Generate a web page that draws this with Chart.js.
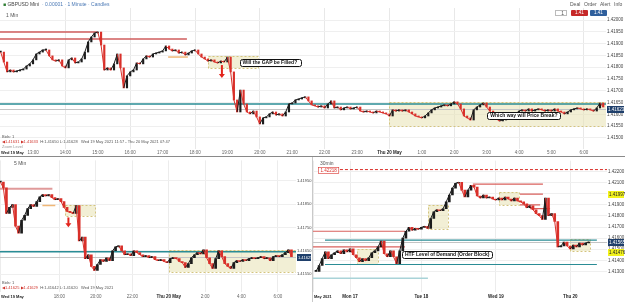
<!DOCTYPE html>
<html lang="en">
<head>
<meta charset="UTF-8" />
<title>GBPUSD - 1 Min / 5 Min / 30 Min</title>
<script src="https://cdn.jsdelivr.net/npm/chart.js"></script>
<style>
    * { box-sizing: border-box; margin: 0; padding: 0; }
    body {
        width: 625px;
        height: 302px;
        position: relative;
        overflow: hidden;
        background: #fff;
        font-family: "Liberation Sans", Arial, sans-serif;
        color: #333;
    }
    canvas { position: absolute; }
    .t { position: absolute; font-size: 5px; line-height: 6px; white-space: nowrap; color: #555; }
    .s { font-size: 4px; line-height: 5px; }
    .red { color: #d0342c; }
    .btn { position: absolute; height: 6px; font-size: 4.5px; line-height: 6px; color: #fff; text-align: center; border-radius: 1px; }
    .hsep { position: absolute; left: 0; top: 156px; width: 625px; height: 1px; background: #8a8a8a; }
    .vsep { position: absolute; left: 312px; top: 157px; width: 1px; height: 145px; background: #c9c9c9; }
</style>
</head>
<body>

<canvas id="top" width="625" height="157" style="left:0;top:0"></canvas>
<canvas id="bl" width="312" height="145" style="left:0;top:157px"></canvas>
<canvas id="br" width="312" height="145" style="left:313px;top:157px"></canvas>
<div class="hsep"></div>
<div class="vsep"></div>

<!-- header / overlay texts -->
<div class="t" style="left:3px;top:1px;color:#444"><span style="color:#2e7d32">&#9632;</span> GBPUSD Mini &nbsp;<span style="color:#4a78b5">&#183; 0.00001 &#183; 1 Minute &#183; Candles</span></div>
<div class="t" style="left:570px;top:1px">Deal</div>
<div class="t" style="left:584px;top:1px">Order</div>
<div class="t" style="left:600px;top:1px">Alert</div>
<div class="t" style="left:614px;top:1px">Info</div>
<div class="t" style="left:555px;top:10px;width:12px;height:6px;border:1px solid #bbb;background:#fff;text-align:right;padding-right:2px;line-height:4px">1</div>
<div class="btn" style="left:571px;top:10px;width:17px;background:#c62828">1.41 407</div>
<div class="btn" style="left:590px;top:10px;width:17px;background:#2f5f9c">1.41 388</div>
<div class="t" style="left:6px;top:12px">1 Min</div>
<div class="t s" style="left:2px;top:134px">Bids: 1</div>
<div class="t s" style="left:2px;top:139px"><span class="red">&#9664;1.41631 &#9654;1.41633</span> &nbsp;H:1.41650 L:1.41628 &nbsp; Wed 19 May 2021 11:57 - Thu 20 May 2021 07:47</div>
<div class="t s" style="left:2px;top:144px;color:#999">Zoom Level</div>
<div class="t" style="left:14px;top:160px">5 Min</div>
<div class="t s" style="left:2px;top:280px">Bids: 1</div>
<div class="t s" style="left:2px;top:285px"><span class="red">&#9664;1.41625 &#9654;1.41629</span> &nbsp;H:1.41642 L:1.41620 &nbsp; Wed 19 May 2021</div>
<div class="t" style="left:320px;top:160px">30min</div>

<script>
// ---- 1 minute pane (sampled every 6 minutes), hours since Wed 19 May 00:00
const topStart = 12.0;
const topStep = 0.1;
const topClose = [
    1.41864, 1.41822, 1.41780, 1.41788, 1.41780, 1.41784, 1.41788, 1.41792, 1.41805, 1.41814,
    1.41831, 1.41856, 1.41864, 1.41873, 1.41873, 1.41848, 1.41831, 1.41826, 1.41831, 1.41805,
    1.41797, 1.41831, 1.41839, 1.41818, 1.41822, 1.41835, 1.41864, 1.41907, 1.41928, 1.41945,
    1.41949, 1.41894, 1.41788, 1.41797, 1.41788, 1.41814, 1.41856, 1.41797, 1.41712, 1.41763,
    1.41780, 1.41788, 1.41818, 1.41814, 1.41835, 1.41848, 1.41843, 1.41856, 1.41860, 1.41864,
    1.41869, 1.41890, 1.41877, 1.41869, 1.41873, 1.41860, 1.41864, 1.41852, 1.41860, 1.41869,
    1.41873, 1.41856, 1.41843, 1.41835, 1.41826, 1.41831, 1.41822, 1.41818, 1.41826, 1.41822,
    1.41843, 1.41780, 1.41661, 1.41610, 1.41703, 1.41644, 1.41610, 1.41602, 1.41614, 1.41589,
    1.41559, 1.41585, 1.41589, 1.41602, 1.41610, 1.41597, 1.41602, 1.41593, 1.41610, 1.41644,
    1.41648, 1.41661, 1.41665, 1.41670, 1.41674, 1.41657, 1.41640, 1.41636, 1.41631, 1.41636,
    1.41627, 1.41644, 1.41657, 1.41627, 1.41631, 1.41619, 1.41627, 1.41631, 1.41623, 1.41627,
    1.41631, 1.41614, 1.41610, 1.41614, 1.41610, 1.41606, 1.41614, 1.41610, 1.41606, 1.41602,
    1.41593, 1.41619, 1.41614, 1.41619, 1.41614, 1.41619, 1.41610, 1.41602, 1.41593, 1.41589,
    1.41585, 1.41593, 1.41606, 1.41619, 1.41627, 1.41631, 1.41636, 1.41640, 1.41636, 1.41644,
    1.41653, 1.41644, 1.41623, 1.41593, 1.41585, 1.41576, 1.41619, 1.41631, 1.41640, 1.41648,
    1.41631, 1.41614, 1.41593, 1.41580, 1.41572, 1.41576, 1.41589, 1.41593, 1.41606, 1.41602,
    1.41614, 1.41619, 1.41614, 1.41623, 1.41614, 1.41619, 1.41623, 1.41619, 1.41614, 1.41619,
    1.41614, 1.41623, 1.41614, 1.41610, 1.41602, 1.41610, 1.41619, 1.41623, 1.41627, 1.41623,
    1.41619, 1.41623, 1.41619, 1.41614, 1.41627, 1.41648, 1.41631
];
const topTimeTicks = [11.98, 13, 14, 15, 16, 17, 18, 19, 20, 21, 22, 23, 24, 25, 26, 27, 28, 29, 30];
const topTimeLabels = ['Wed 19 May', '13:00', '14:00', '15:00', '16:00', '17:00', '18:00', '19:00', '20:00',
    '21:00', '22:00', '23:00', 'Thu 20 May', '1:00', '2:00', '3:00', '4:00', '5:00', '6:00'];
const topPriceTicks = [1.4150, 1.4155, 1.4160, 1.4165, 1.4170, 1.4175, 1.4180, 1.4185, 1.4190, 1.4195, 1.4200];
const topRedLevels = [[11.98, 14.98, 1.41949], [11.98, 17.75, 1.41920]];
const topOrangeLevels = [[17.17, 17.78, 1.41843]];
const topTealLevels = [[11.98, 31, 1.41644]];
const topBoxes = [[18.40, 19.94, 1.41848, 1.41797], [23.99, 30.7, 1.41653, 1.41551]];
const topArrows = [[18.83, 1.41809, 1.41754]];
const topNotes = [[20.31, 1.41820, 'Will the GAP be Filled?'], [28.15, 1.41595, 'Which way will Price Break?']];
const topLast = 1.41623;

// ---- 5 minute pane (sampled every 10 minutes), hours since Wed 19 May 00:00
const blStart = 14.75;
const blStep = 1 / 6;
const blClose = [
    1.41945, 1.41920, 1.41810, 1.41836, 1.41848, 1.41756, 1.41726, 1.41781, 1.41802, 1.41831,
    1.41848, 1.41840, 1.41861, 1.41882, 1.41891, 1.41886, 1.41891, 1.41878, 1.41869, 1.41874,
    1.41861, 1.41836, 1.41819, 1.41815, 1.41810, 1.41844, 1.41692, 1.41709, 1.41616, 1.41633,
    1.41583, 1.41566, 1.41591, 1.41612, 1.41604, 1.41620, 1.41608, 1.41650, 1.41667, 1.41671,
    1.41650, 1.41633, 1.41637, 1.41629, 1.41650, 1.41642, 1.41633, 1.41625, 1.41629, 1.41620,
    1.41625, 1.41612, 1.41608, 1.41612, 1.41604, 1.41599, 1.41616, 1.41620, 1.41616, 1.41604,
    1.41599, 1.41578, 1.41595, 1.41620, 1.41633, 1.41642, 1.41637, 1.41654, 1.41620, 1.41595,
    1.41574, 1.41616, 1.41650, 1.41625, 1.41595, 1.41583, 1.41574, 1.41599, 1.41608, 1.41604,
    1.41612, 1.41608, 1.41616, 1.41620, 1.41616, 1.41620, 1.41625, 1.41616, 1.41620, 1.41608,
    1.41625, 1.41629, 1.41625, 1.41633, 1.41642, 1.41654, 1.41625
];
const blTimeTicks = [14.73, 18, 20, 22, 24, 26, 28, 30];
const blTimeLabels = ['Wed 19 May', '18:00', '20:00', '22:00', 'Thu 20 May', '2:00', '4:00', '6:00'];
const blPriceTicks = [1.4155, 1.4165, 1.4175, 1.4185, 1.4195];
const blRedLevels = [[14.73, 17.61, 1.41916]];
const blOrangeLevels = [[17.06, 17.77, 1.41844]];
const blTealLevels = [[14.73, 32, 1.41646]];
const blBoxes = [[18.32, 19.97, 1.41848, 1.41798], [24.0, 31.0, 1.41654, 1.41557]];
const blArrows = [[18.49, 1.41793, 1.41751]];
const blLast = 1.41625;

// ---- 30 minute pane (sampled hourly), hours since Mon 17 May 00:00
const brStart = -10;
const brStep = 1;
const brClose = [
    1.41300, 1.41353, 1.41415, 1.41476, 1.41415, 1.41450, 1.41468, 1.41485, 1.41459, 1.41494,
    1.41476, 1.41503, 1.41450, 1.41423, 1.41388, 1.41415, 1.41397, 1.41423, 1.41468, 1.41485,
    1.41521, 1.41574, 1.41459, 1.41432, 1.41485, 1.41432, 1.41370, 1.41485, 1.41600, 1.41662,
    1.41697, 1.41671, 1.41688, 1.41680, 1.41697, 1.41706, 1.41688, 1.41777, 1.41838, 1.41856,
    1.41847, 1.41865, 1.41927, 1.41989, 1.42050, 1.42095, 1.42103, 1.42033, 1.41971, 1.42033,
    1.42077, 1.42059, 1.41980, 1.41962, 1.41989, 1.41962, 1.41971, 1.41953, 1.41944, 1.41962,
    1.41944, 1.41971, 1.41953, 1.41936, 1.41962, 1.41936, 1.41927, 1.41909, 1.41874, 1.41891,
    1.41856, 1.41821, 1.41803, 1.41768, 1.41962, 1.41803, 1.41821, 1.41750, 1.41521, 1.41529,
    1.41565, 1.41529, 1.41503, 1.41538, 1.41521, 1.41556, 1.41538, 1.41556, 1.41565
];
const brTimeTicks = [-10.97, 1, 24, 48, 72];
const brTimeLabels = ['May 2021', 'Mon 17', 'Tue 18', 'Wed 19', 'Thu 20'];
const brPriceTicks = [1.4130, 1.4140, 1.4150, 1.4160, 1.4170, 1.4180, 1.4190, 1.4200, 1.4210, 1.4220];
const brRedLevels = [[40.6, 63.2, 1.42086], [55.8, 63.2, 1.41997], [55.8, 62.3, 1.41900],
    [59.0, 65.5, 1.41865], [-11, 18.7, 1.41662], [-11, 18.7, 1.41521]];
const brDashedLevels = [[-5.5, 90, 1.42218]];
const brTealLevels = [[-7.1, 80.6, 1.41582], [-7.1, 80.6, 1.41362]];
const brPaleTealLevels = [[-11, 26.1, 1.41238]];
const brBoxes = [[3.2, 10.0, 1.41503, 1.41370], [26.1, 32.6, 1.41900, 1.41680],
    [49.0, 55.5, 1.42015, 1.41900], [71.9, 78.4, 1.41591, 1.41485]];
const brNotes = [[32.3, 1.41454, 'HTF Level of Demand (Order Block)']];
const brMarked = [1.41997, 1.41476];
const brLast = 1.41565;

const RED = '#d9302a';
const BLACK = '#1c1c1c';

function candles(start, step, closes) {
    return closes.map((c, i) => ({ x: start + i * step, y: [i ? closes[i - 1] : c, c] }));
}
function closeLine(start, step, closes) {
    return closes.map((c, i) => ({ x: start + i * step, y: c }));
}
function candleColors(closes) {
    return closes.map((c, i) => (i && c < closes[i - 1]) ? RED : BLACK);
}

const overlays = {
    id: 'overlays',
    beforeDatasetsDraw(chart, args, o) {
        const { ctx, chartArea: a, scales: { x, y } } = chart;
        ctx.save();
        ctx.beginPath();
        ctx.rect(a.left, a.top, a.right - a.left, a.bottom - a.top);
        ctx.clip();
        (o.boxes || []).forEach(([t0, t1, p0, p1]) => {
            const x0 = Math.round(x.getPixelForValue(t0)), x1 = Math.round(x.getPixelForValue(t1));
            const y0 = Math.round(y.getPixelForValue(p0)), y1 = Math.round(y.getPixelForValue(p1));
            ctx.fillStyle = 'rgba(232,226,178,0.55)';
            ctx.fillRect(x0, y0, x1 - x0, y1 - y0);
            ctx.setLineDash([2, 2]);
            ctx.strokeStyle = '#d4c47e';
            ctx.lineWidth = 1;
            ctx.strokeRect(x0 + 0.5, y0 + 0.5, x1 - x0, y1 - y0);
        });
        if (o.last != null) {
            const ly = Math.round(y.getPixelForValue(o.last)) + 0.5;
            ctx.setLineDash([]);
            ctx.strokeStyle = '#c4c4c4';
            ctx.lineWidth = 1;
            ctx.beginPath();
            ctx.moveTo(a.left, ly);
            ctx.lineTo(a.right, ly);
            ctx.stroke();
        }
        (o.levels || []).forEach(set => {
            ctx.strokeStyle = set.color;
            ctx.lineWidth = set.width;
            ctx.setLineDash(set.dash || []);
            set.rows.forEach(([t0, t1, p]) => {
                const ly = y.getPixelForValue(p);
                ctx.beginPath();
                ctx.moveTo(x.getPixelForValue(t0), ly);
                ctx.lineTo(x.getPixelForValue(t1), ly);
                ctx.stroke();
            });
        });
        ctx.restore();
    },
    afterDatasetsDraw(chart, args, o) {
        const { ctx, scales: { x, y } } = chart;
        ctx.save();
        (o.arrows || []).forEach(([t, p0, p1]) => {
            const ax = x.getPixelForValue(t), y0 = y.getPixelForValue(p0), y1 = y.getPixelForValue(p1);
            ctx.strokeStyle = '#e3241c';
            ctx.fillStyle = '#e3241c';
            ctx.lineWidth = 2;
            ctx.beginPath();
            ctx.moveTo(ax, y0);
            ctx.lineTo(ax, y1 - 3);
            ctx.stroke();
            ctx.beginPath();
            ctx.moveTo(ax - 3, y1 - 4);
            ctx.lineTo(ax + 3, y1 - 4);
            ctx.lineTo(ax, y1);
            ctx.closePath();
            ctx.fill();
        });
        ctx.font = 'bold 5px "Liberation Sans", Arial';
        ctx.textAlign = 'center';
        ctx.textBaseline = 'middle';
        (o.notes || []).forEach(([t, p, text]) => {
            const cx = x.getPixelForValue(t), cy = y.getPixelForValue(p);
            const w = ctx.measureText(text).width + 6, h = 7;
            ctx.fillStyle = '#fff';
            ctx.strokeStyle = '#111';
            ctx.lineWidth = 1;
            ctx.beginPath();
            ctx.roundRect(Math.round(cx - w / 2) + 0.5, Math.round(cy - h / 2) + 0.5, Math.round(w), h, 2);
            ctx.fill();
            ctx.stroke();
            ctx.fillStyle = '#111';
            ctx.fillText(text, cx, cy + 0.5);
        });
        ctx.restore();
    },
    afterDraw(chart, args, o) {
        const { ctx, chartArea: a, scales: { x, y } } = chart;
        ctx.save();
        ctx.textBaseline = 'middle';
        o.timeTicks.forEach((t, i) => {
            const label = o.timeLabels[i];
            const px = x.getPixelForValue(t);
            const day = /^[A-Z][a-z]{2} \d/.test(label);
            const edge = px - a.left < 14;
            ctx.font = (day ? 'bold ' : '') + (edge ? '4px' : '4.5px') + ' "Liberation Sans", Arial';
            ctx.fillStyle = day ? '#222' : '#666';
            ctx.textAlign = edge ? 'left' : 'center';
            ctx.fillText(label, edge ? a.left + 1 : px, a.bottom + o.labelGap);
        });
        const tag = (p, bg, fg) => {
            const ty = Math.round(y.getPixelForValue(p));
            ctx.fillStyle = bg;
            ctx.fillRect(a.right + 1, ty - 3, chart.width - a.right - 2, 7);
            ctx.fillStyle = fg;
            ctx.font = o.tagFont;
            ctx.textAlign = 'left';
            ctx.fillText(p.toFixed(5), a.right + 2, ty + 0.5);
        };
        (o.marked || []).forEach(p => tag(p, '#f2f21c', '#222'));
        if (o.last != null) tag(o.last, '#1f3f6b', '#fff');
        (o.leftTags || []).forEach(([t0, t1, p]) => {
            const ty = Math.round(y.getPixelForValue(p));
            ctx.font = '4.5px "Liberation Sans", Arial';
            ctx.textAlign = 'left';
            const w = ctx.measureText(p.toFixed(5)).width + 4;
            ctx.fillStyle = '#fff';
            ctx.fillRect(a.left + 5, ty - 3, w, 6);
            ctx.strokeStyle = RED;
            ctx.lineWidth = 0.6;
            ctx.strokeRect(a.left + 5.5, ty - 2.5, w, 6);
            ctx.fillStyle = RED;
            ctx.fillText(p.toFixed(5), a.left + 7.5, ty + 0.5);
        });
        ctx.restore();
    }
};

function makeChart(id, c) {
    return new Chart(document.getElementById(id), {
        type: 'bar',
        data: {
            datasets: [{
                type: 'line',
                data: closeLine(c.start, c.step, c.closes),
                borderWidth: 1,
                pointRadius: 0,
                tension: 0,
                segment: { borderColor: s => s.p1.parsed.y < s.p0.parsed.y ? RED : BLACK }
            }, {
                data: candles(c.start, c.step, c.closes),
                backgroundColor: candleColors(c.closes),
                barThickness: c.barWidth,
                minBarLength: 1,
                grouped: false
            }]
        },
        options: {
            responsive: false,
            animation: false,
            events: [],
            layout: { padding: { top: c.padTop, left: 0, right: 0, bottom: 0 } },
            plugins: {
                legend: { display: false },
                tooltip: { enabled: false },
                overlays: c.overlays
            },
            scales: {
                x: {
                    type: 'linear',
                    offset: false,
                    min: c.xMin,
                    max: c.xMax,
                    grid: { offset: false, drawTicks: false, color: c.xGrid },
                    border: { display: false },
                    ticks: { display: false },
                    afterBuildTicks: s => { s.ticks = c.overlays.timeTicks.map(v => ({ value: v })); },
                    afterFit: s => { s.height = c.xHeight; }
                },
                y: {
                    position: 'right',
                    min: c.yMin,
                    max: c.yMax,
                    beginAtZero: false,
                    grid: { drawTicks: false, color: '#efefef' },
                    border: { display: false },
                    ticks: {
                        font: { size: c.tickSize, family: '"Liberation Sans", Arial' },
                        color: '#444',
                        padding: 1,
                        callback: v => v.toFixed(5)
                    },
                    afterBuildTicks: s => { s.ticks = c.priceTicks.map(v => ({ value: v })); },
                    afterFit: s => { s.width = c.yWidth; }
                }
            }
        },
        plugins: [overlays]
    });
}

makeChart('top', {
    start: topStart, step: topStep, closes: topClose, barWidth: 1.5,
    padTop: 8, xHeight: 8, yWidth: 19, tickSize: 4.5,
    xMin: 11.981, xMax: 30.685, yMin: 1.41453, yMax: 1.42051,
    priceTicks: topPriceTicks,
    xGrid: ctx => (ctx.tick && Math.round(ctx.tick.value) % 2 === 0 && ctx.tick.value > 12) ? '#e8e8e8' : 'rgba(0,0,0,0)',
    overlays: {
        timeTicks: topTimeTicks, timeLabels: topTimeLabels, labelGap: 4,
        tagFont: '4.5px "Liberation Sans", Arial',
        boxes: topBoxes, arrows: topArrows, notes: topNotes, last: topLast,
        levels: [
            { rows: topRedLevels, color: '#cf5d5d', width: 1.5 },
            { rows: topOrangeLevels, color: '#f0b777', width: 1.5 },
            { rows: topTealLevels, color: '#2a8c95', width: 1.5 }
        ]
    }
});

makeChart('bl', {
    start: blStart, step: blStep, closes: blClose, barWidth: 2,
    padTop: 1, xHeight: 10, yWidth: 16, tickSize: 4,
    xMin: 14.73, xMax: 31.0, yMin: 1.41473, yMax: 1.42038,
    priceTicks: blPriceTicks,
    xGrid: '#ececec',
    overlays: {
        timeTicks: blTimeTicks, timeLabels: blTimeLabels, labelGap: 5,
        tagFont: '4px "Liberation Sans", Arial',
        boxes: blBoxes, arrows: blArrows, last: blLast,
        levels: [
            { rows: blRedLevels, color: '#e09a9a', width: 2 },
            { rows: blOrangeLevels, color: '#f0b777', width: 1.5 },
            { rows: blTealLevels, color: '#2a8c95', width: 1.5 }
        ]
    }
});

makeChart('br', {
    start: brStart, step: brStep, closes: brClose, barWidth: 2,
    padTop: 1, xHeight: 10, yWidth: 18, tickSize: 4.5,
    xMin: -10.97, xMax: 83.87, yMin: 1.41114, yMax: 1.42298,
    priceTicks: brPriceTicks,
    xGrid: '#ececec',
    overlays: {
        timeTicks: brTimeTicks, timeLabels: brTimeLabels, labelGap: 5,
        tagFont: '4.5px "Liberation Sans", Arial',
        boxes: brBoxes, notes: brNotes, last: brLast, marked: brMarked,
        leftTags: brDashedLevels,
        levels: [
            { rows: brRedLevels, color: '#d9605c', width: 1.2 },
            { rows: brDashedLevels, color: '#d9302a', width: 1, dash: [3, 2] },
            { rows: brTealLevels, color: '#2a8c95', width: 1.2 },
            { rows: brPaleTealLevels, color: '#a9d3d8', width: 1.5 }
        ]
    }
});
</script>
</body>
</html>
